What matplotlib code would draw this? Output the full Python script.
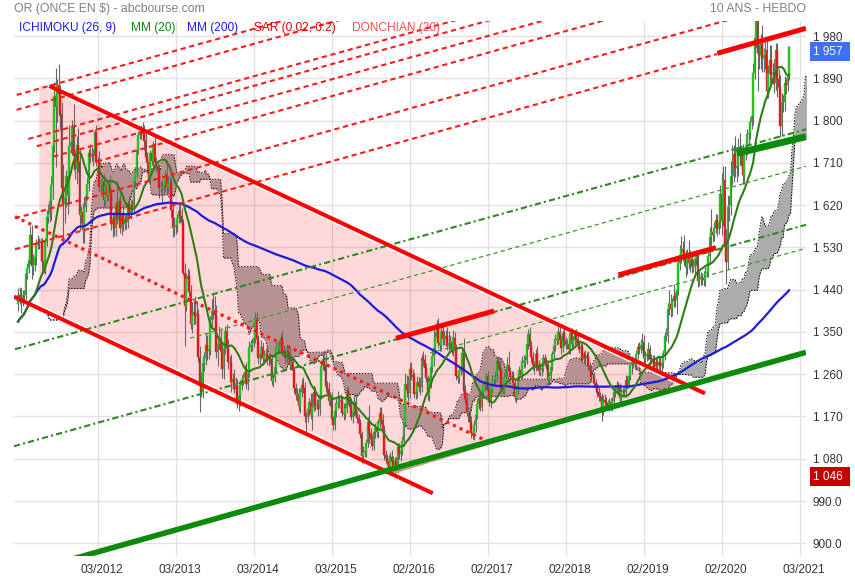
import numpy as np
import pandas as pd
import matplotlib
matplotlib.use("Agg")
import matplotlib.pyplot as plt
from matplotlib.transforms import blended_transform_factory, ScaledTranslation

plt.rcParams["font.family"] = ["Liberation Sans", "DejaVu Sans"]

# ---- weekly gold price, $ / oz (week index 0 = week of 2011-02-28) ----
# 8 weeks before the window, only used by the moving averages and ichimoku
open_first = 1421
close_hist = [1369, 1360, 1342, 1341, 1349, 1360, 1388, 1409]
up_hist = [22, 15, 12, 14, 16, 12, 10, 9]
dn_hist = [18, 20, 14, 33, 12, 14, 16, 10]

close_2011 = [1429, 1421, 1418, 1429, 1429, 1474, 1486, 1504, 1556, 1491, 1493, 1509, 1536, 1542, 1541,
              1539, 1500, 1486, 1542, 1594, 1601, 1628, 1663, 1745, 1852, 1828, 1876, 1856, 1814, 1657,
              1622, 1636, 1681, 1642, 1746, 1755, 1788, 1724, 1696, 1747, 1711, 1598, 1606, 1566]
up_2011 = [14, 16, 22, 10, 10, 8, 10, 12, 20, 21, 22, 12, 12, 14, 8, 10, 12, 20, 8, 16, 22, 10, 19, 70,
           30, 60, 12, 44, 20, 25, 50, 20, 14, 20, 45, 8, 14, 48, 12, 20, 37, 28, 12, 18]
dn_2011 = [14, 12, 28, 12, 10, 8, 12, 10, 10, 29, 20, 14, 16, 10, 14, 18, 22, 10, 12, 10, 12, 18, 40, 30,
           12, 126, 30, 46, 34, 30, 87, 40, 20, 40, 20, 14, 28, 30, 20, 30, 20, 30, 16, 26]

close_2012 = [1617, 1640, 1665, 1731, 1725, 1725, 1724, 1776, 1711, 1711, 1659, 1662, 1669, 1631, 1660,
              1642, 1664, 1645, 1580, 1592, 1572, 1622, 1590, 1628, 1572, 1598, 1579, 1590, 1585, 1622,
              1604, 1620, 1616, 1671, 1691, 1738, 1770, 1775, 1772, 1780, 1757, 1723, 1711, 1676, 1730,
              1714, 1751, 1712, 1704, 1696, 1657, 1657]
up_2012 = [20, 12, 14, 8, 20, 18, 14, 5, 14, 12, 24, 12, 10, 18, 8, 16, 10, 20, 12, 10, 14, 6, 50, 8, 16,
           6, 24, 10, 12, 6, 18, 10, 14, 4, 10, 4, 8, 12, 15, 18, 10, 16, 10, 20, 8, 14, 6, 14, 10, 10, 12, 14]
dn_2012 = [26, 12, 10, 16, 15, 12, 20, 12, 8, 14, 12, 20, 12, 14, 12, 14, 14, 12, 14, 28, 18, 18, 10, 14,
           12, 16, 14, 12, 16, 14, 14, 14, 10, 12, 12, 12, 10, 10, 12, 12, 20, 12, 14, 8, 14, 8, 12, 12, 14,
           12, 22, 10]

close_2013 = [1657, 1662, 1687, 1659, 1667, 1667, 1609, 1572, 1573, 1577, 1592, 1608, 1596, 1581, 1476,
              1405, 1462, 1469, 1436, 1366, 1387, 1392, 1383, 1388, 1296, 1234, 1223, 1283, 1295, 1322,
              1310, 1313, 1375, 1395, 1396, 1387, 1308, 1325, 1338, 1310, 1272, 1315, 1352, 1315, 1285,
              1287, 1243, 1250, 1229, 1234, 1197, 1213]
up_2013 = [16, 20, 8, 30, 15, 14, 10, 12, 22, 12, 10, 12, 14, 18, 10, 20, 14, 18, 12, 14, 26, 24, 34, 28,
           10, 25, 30, 16, 12, 26, 22, 10, 8, 25, 37, 30, 20, 12, 24, 18, 14, 10, 10, 14, 20, 12, 16, 12,
           22, 20, 16, 10]
dn_2013 = [32, 12, 12, 18, 14, 14, 14, 20, 18, 14, 14, 10, 12, 14, 5, 84, 10, 16, 10, 10, 18, 22, 16, 16,
           10, 54, 12, 14, 16, 16, 20, 18, 12, 16, 18, 30, 14, 30, 12, 20, 20, 22, 12, 10, 14, 10, 20, 14,
           10, 24, 10, 16]

close_2014 = [1237, 1248, 1254, 1264, 1240, 1262, 1318, 1323, 1326, 1338, 1380, 1334, 1294, 1303, 1318,
              1294, 1300, 1302, 1290, 1293, 1292, 1245, 1252, 1275, 1316, 1316, 1320, 1337, 1310, 1307,
              1294, 1310, 1305, 1280, 1287, 1268, 1231, 1216, 1218, 1192, 1222, 1238, 1231, 1171, 1169,
              1185, 1201, 1175, 1191, 1222, 1195, 1195]
up_2014 = [10, 10, 8, 16, 22, 8, 12, 10, 12, 14, 12, 12, 10, 10, 14, 10, 12, 14, 20, 12, 10, 8, 10, 8, 12,
           14, 12, 8, 14, 12, 8, 12, 10, 12, 8, 10, 8, 10, 12, 12, 8, 12, 16, 12, 8, 12, 8, 20, 30, 16, 10, 12]
dn_2014 = [20, 10, 12, 12, 12, 14, 8, 10, 14, 8, 12, 8, 12, 12, 10, 14, 12, 12, 10, 12, 10, 8, 12, 8, 10,
           10, 10, 14, 12, 8, 12, 10, 12, 8, 12, 12, 10, 10, 12, 10, 14, 10, 12, 12, 38, 10, 14, 10, 33, 10,
           12, 10]

close_2015 = [1186, 1216, 1277, 1293, 1279, 1234, 1228, 1204, 1213, 1164, 1152, 1182, 1199, 1201, 1205,
              1203, 1178, 1175, 1189, 1225, 1205, 1190, 1168, 1180, 1201, 1173, 1167, 1157, 1132, 1086,
              1095, 1094, 1113, 1159, 1134, 1121, 1108, 1137, 1146, 1137, 1156, 1177, 1163, 1142, 1088,
              1081, 1076, 1057, 1084, 1075, 1066, 1076]
up_2015 = [12, 10, 10, 14, 18, 26, 12, 16, 10, 10, 8, 14, 10, 24, 10, 12, 10, 20, 10, 8, 10, 10, 20, 12,
           14, 20, 10, 8, 8, 8, 12, 10, 8, 10, 36, 12, 12, 6, 10, 14, 8, 14, 14, 12, 10, 10, 10, 12, 10, 14,
           10, 8]
dn_2015 = [14, 12, 8, 8, 12, 12, 10, 10, 12, 8, 10, 10, 14, 12, 12, 12, 8, 12, 10, 12, 8, 10, 6, 12, 10,
           6, 10, 10, 8, 14, 14, 10, 10, 8, 20, 10, 10, 10, 12, 10, 12, 10, 10, 8, 10, 10, 10, 6, 8, 10, 20, 12]

close_2016 = [1061, 1104, 1090, 1097, 1117, 1157, 1239, 1227, 1221, 1271, 1259, 1255, 1217, 1222, 1243,
              1235, 1232, 1294, 1290, 1273, 1252, 1216, 1243, 1275, 1298, 1316, 1340, 1366, 1327, 1322,
              1351, 1336, 1336, 1341, 1321, 1327, 1328, 1310, 1338, 1316, 1257, 1251, 1267, 1276, 1305,
              1225, 1208, 1178, 1178, 1159, 1134, 1131, 1152]
up_2016 = [8, 10, 10, 14, 12, 10, 24, 20, 30, 12, 14, 12, 10, 8, 14, 12, 20, 8, 16, 14, 10, 6, 10, 10, 16,
           42, 10, 9, 14, 12, 16, 16, 16, 14, 20, 25, 16, 12, 16, 12, 8, 12, 8, 12, 8, 32, 12, 14, 12, 12,
           12, 10, 10]
dn_2016 = [12, 12, 10, 14, 8, 10, 10, 16, 18, 12, 12, 14, 8, 10, 12, 12, 16, 10, 12, 10, 8, 10, 12, 12,
           10, 20, 12, 12, 12, 12, 12, 14, 14, 10, 10, 12, 14, 8, 12, 12, 10, 10, 10, 8, 12, 10, 10, 8, 20,
           10, 10, 8, 12]

close_2017 = [1173, 1197, 1209, 1191, 1220, 1234, 1238, 1257, 1226, 1201, 1229, 1248, 1249, 1254, 1288,
              1284, 1268, 1228, 1227, 1254, 1267, 1280, 1266, 1254, 1256, 1242, 1212, 1228, 1254, 1269,
              1258, 1289, 1285, 1291, 1325, 1346, 1320, 1297, 1280, 1275, 1304, 1280, 1266, 1269, 1274,
              1294, 1288, 1281, 1248, 1257, 1275, 1303]
up_2017 = [10, 12, 10, 14, 8, 10, 8, 6, 10, 8, 12, 10, 10, 10, 8, 8, 10, 8, 8, 10, 10, 16, 30, 10, 10, 10,
           8, 10, 8, 8, 16, 10, 12, 10, 8, 11, 14, 10, 10, 8, 10, 16, 10, 14, 8, 10, 10, 8, 8, 8, 8, 6]
dn_2017 = [14, 8, 12, 10, 10, 8, 10, 12, 8, 8, 12, 10, 12, 12, 10, 12, 10, 8, 10, 10, 10, 10, 10, 8, 10,
           10, 8, 14, 10, 8, 10, 8, 12, 10, 10, 12, 8, 10, 10, 14, 8, 10, 8, 10, 12, 10, 10, 10, 12, 12, 8, 8]

close_2018 = [1320, 1335, 1332, 1350, 1333, 1316, 1347, 1330, 1323, 1324, 1313, 1347, 1325, 1332, 1345,
              1336, 1323, 1314, 1318, 1291, 1302, 1294, 1298, 1278, 1269, 1253, 1255, 1241, 1231, 1223,
              1214, 1212, 1184, 1205, 1201, 1198, 1193, 1200, 1192, 1203, 1222, 1227, 1234, 1232, 1209,
              1222, 1223, 1222, 1248, 1238, 1257, 1280]
up_2018 = [8, 10, 12, 16, 10, 10, 8, 12, 10, 10, 12, 8, 12, 10, 10, 12, 10, 10, 8, 8, 8, 10, 10, 12, 8, 8,
           8, 10, 8, 10, 10, 8, 8, 10, 12, 10, 8, 10, 10, 8, 8, 10, 12, 10, 10, 8, 8, 8, 10, 8, 8, 6]
dn_2018 = [8, 10, 10, 8, 10, 12, 8, 10, 10, 10, 10, 10, 8, 10, 10, 10, 10, 8, 10, 8, 10, 10, 10, 8, 10, 10,
           12, 8, 10, 12, 10, 10, 24, 10, 10, 8, 10, 12, 8, 10, 8, 10, 10, 10, 8, 10, 10, 8, 10, 10, 8, 10]

close_2019 = [1286, 1288, 1282, 1304, 1318, 1314, 1322, 1329, 1294, 1298, 1302, 1313, 1292, 1291, 1290,
              1276, 1286, 1280, 1286, 1277, 1284, 1305, 1341, 1341, 1399, 1409, 1399, 1415, 1426, 1419,
              1440, 1497, 1513, 1527, 1520, 1507, 1488, 1517, 1497, 1505, 1489, 1490, 1505, 1514, 1459,
              1468, 1462, 1464, 1460, 1476, 1478, 1511]
up_2019 = [12, 8, 10, 8, 8, 10, 12, 18, 14, 12, 10, 16, 10, 10, 10, 10, 8, 10, 14, 10, 8, 6, 8, 18, 12, 30,
           22, 8, 26, 10, 14, 12, 22, 28, 16, 37, 18, 10, 28, 20, 14, 16, 10, 10, 10, 14, 10, 12, 16, 12, 12, 8]
dn_2019 = [20, 12, 10, 12, 12, 10, 8, 10, 10, 12, 10, 12, 12, 10, 10, 8, 10, 12, 10, 10, 10, 10, 14, 10,
           14, 14, 18, 16, 12, 16, 30, 12, 16, 16, 18, 14, 22, 14, 12, 20, 14, 12, 14, 12, 14, 12, 12, 12,
           12, 12, 10, 12]

close_2020 = [1552, 1562, 1557, 1571, 1589, 1570, 1584, 1644, 1586, 1673, 1530, 1499, 1617, 1620, 1683,
              1683, 1729, 1700, 1703, 1743, 1735, 1730, 1685, 1730, 1743, 1771, 1774, 1798, 1810, 1902,
              1975, 2035, 1944, 1940, 1964, 1933, 1940, 1950, 1862, 1900, 1930, 1900, 1902, 1879, 1951,
              1889, 1872, 1788, 1839, 1840, 1881, 1876]
up_2020 = [22, 49, 12, 12, 12, 12, 10, 18, 45, 30, 30, 40, 25, 20, 30, 64, 18, 38, 12, 20, 30, 14, 20, 14,
           10, 10, 14, 10, 8, 20, 9, 40, 26, 20, 20, 40, 14, 20, 20, 18, 30, 30, 20, 30, 14, 14, 20, 26, 20,
           14, 14, 10]
dn_2020 = [16, 20, 16, 14, 10, 16, 12, 12, 30, 10, 26, 48, 16, 30, 20, 20, 14, 20, 30, 22, 30, 26, 20, 20,
           14, 16, 20, 14, 16, 20, 14, 20, 81, 30, 30, 30, 30, 30, 14, 14, 22, 16, 22, 20, 14, 39, 20, 24,
           20, 20, 20, 20]

close_2021 = [1895, 1957]
up_2021 = [12, 2]
dn_2021 = [14, 8]

# ---- axis labels ----
y_ticks = [900, 990, 1080, 1170, 1260, 1350, 1440, 1530, 1620, 1710, 1800, 1890, 1980]
x_tick_weeks = [53, 105, 157, 209, 261, 313, 365, 417, 469, 521]
x_tick_labels = ["03/2012", "03/2013", "03/2014", "03/2015", "02/2016",
                 "02/2017", "02/2018", "02/2019", "02/2020", "03/2021"]

# ---- drawn lines (week0, price0, week1, price1) ----
red_dashed = [(-0.9, 1854.6, 188.0, 2022.6), (-0.9, 1822.9, 228.0, 2026.3),
              (6.9, 1760.8, 321.3, 2039.9), (12.5, 1745.4, 334.7, 2031.6),
              (23.5, 1723.3, 361.3, 2022.6), (52.7, 1713.0, 401.3, 2022.6),
              (-2.0, 1591.9, 481.3, 2021.2), (-2.0, 1525.9, 466.0, 1941.5)]
red_dotted = (-2.0, 1595.3, 313.5, 1116.3)
red_channel = [(20.9, 1873.6, 458.0, 1219.0), (-2.7, 1425.0, 276.5, 1006.5)]
red_thick = [(252.0, 1336.5, 317.3, 1394.6), (400.2, 1471.2, 465.3, 1529.4),
             (466.2, 1943.2, 525.3, 1996.4)]
green_dashdot = [(-2.0, 1313.2, 525.3, 1781.4), (-2.7, 1106.7, 525.3, 1578.1)]
green_dashed = [(114.7, 1336.7, 525.3, 1702.6), (274.7, 1305.4, 525.3, 1528.1)]
green_thick = [(30.0, 860.8, 525.3, 1306.6)]
green_thick_top = [(479.1, 1730.3, 525.3, 1765.7)]
# pink zone: upper-left, apex, bottom, lower-left
zone_week = [14.2, 442.0, 250.0, 14.2]
zone_price = [1877.0, 1236.0, 1053.0, 1406.0]
base_line = (248.7, 1048.6, 444.7, 1238.0)

# ---- build OHLC ----
closes = (close_hist + close_2011 + close_2012 + close_2013 + close_2014 + close_2015 +
          close_2016 + close_2017 + close_2018 + close_2019 + close_2020 + close_2021)
ups = (up_hist + up_2011 + up_2012 + up_2013 + up_2014 + up_2015 +
       up_2016 + up_2017 + up_2018 + up_2019 + up_2020 + up_2021)
dns = (dn_hist + dn_2011 + dn_2012 + dn_2013 + dn_2014 + dn_2015 +
       dn_2016 + dn_2017 + dn_2018 + dn_2019 + dn_2020 + dn_2021)
n = min(len(closes), len(ups), len(dns))

close = np.array(closes[:n], dtype=float)
opn = np.concatenate([[open_first], close[:-1]])
high = np.maximum(opn, close) + np.array(ups[:n])
low = np.minimum(opn, close) - np.array(dns[:n])
week = np.arange(n) - len(close_hist)

s_close = pd.Series(close)
s_high = pd.Series(high)
s_low = pd.Series(low)
mm20 = s_close.rolling(20, min_periods=1).mean().values
mm200 = s_close.rolling(200, min_periods=1).mean().values


def midpoint(k):
    return ((s_high.rolling(k, min_periods=1).max() + s_low.rolling(k, min_periods=1).min()) / 2).values


tenkan = midpoint(9)
kijun = midpoint(26)
span_a = (tenkan + kijun) / 2
span_b = midpoint(52)
cloud_x = week + 26

vis = week >= 0

# ---- figure ----
fig = plt.figure(figsize=(8.55, 5.8), dpi=100)
fig.patch.set_facecolor("white")
ax = fig.add_axes([14 / 855, 24 / 580, 792 / 855, 535 / 580])
ax.set_xlim(-2.67, 525.33)
ax.set_ylim(872.96, 2011.97)
for s in ax.spines.values():
    s.set_visible(False)

ax.set_yticks(y_ticks)
ax.set_yticklabels([f"{v // 1000} {v % 1000:03d}" if v >= 1000 else f"{v:.1f}" for v in y_ticks])
ax.yaxis.tick_right()
ax.set_xticks(x_tick_weeks)
ax.set_xticklabels(x_tick_labels)
ax.tick_params(axis="y", length=0, pad=5, labelsize=8.5, labelcolor="#333333")
ax.tick_params(axis="x", length=0, pad=6, labelsize=8.5, labelcolor="#333333")
shift = ScaledTranslation(4 / 100, 0, fig.dpi_scale_trans)
for lbl in ax.get_xticklabels():
    lbl.set_transform(lbl.get_transform() + shift)
ax.grid(True, color="#e2e2e2", lw=1)
ax.set_axisbelow(True)

# ichimoku cloud
ax.fill_between(cloud_x, span_a, span_b, color="#acacac", lw=0, zorder=2)
ax.plot(cloud_x, span_a, color="black", lw=0.7, ls=(0, (1.5, 1.5)), zorder=2.5)
ax.plot(cloud_x, span_b, color="black", lw=0.7, ls=(0, (1.5, 1.5)), zorder=2.5)

# pink zone
ax.fill(zone_week, zone_price, facecolor="#ff0000", alpha=0.15, edgecolor="none", zorder=3)
ax.plot(zone_week[:2], zone_price[:2], color="white", lw=0.9, zorder=3.2)
ax.plot(zone_week[2:], zone_price[2:], color="white", lw=0.9, zorder=3.2)

# candles
ax.vlines(week[vis], low[vis], high[vis], color="#666666", lw=0.8, zorder=4)
body = close - opn
body = np.where(np.abs(body) < 1.5, 1.5, body)
colors = np.where(close >= opn, "#22c422", "#e3161a")
ax.bar(week[vis], body[vis], bottom=opn[vis], width=1.2, color=colors[vis],
       edgecolor=colors[vis], lw=0.3, zorder=5)

# moving averages
ax.plot(week[vis], mm200[vis], color="#1c1cdc", lw=1.6, zorder=6)
ax.plot(week[vis], mm20[vis], color="#2f7d16", lw=1.5, zorder=6)


def seg(line, **kw):
    ax.plot([line[0], line[2]], [line[1], line[3]], **kw)


# drawn lines
for ln in green_dashed:
    seg(ln, color="#3a9a2a", lw=0.9, ls=(0, (3.5, 2.5)), zorder=7)
for ln in green_dashdot:
    seg(ln, color="#2a8a1c", lw=1.5, ls=(0, (3, 1.5, 1, 1.5)), zorder=7)
for ln in red_dashed:
    seg(ln, color="#ff1a1a", lw=1.5, ls=(0, (2.5, 1.8)), zorder=7)
seg(red_dotted, color="#ff1a1a", lw=2.3, ls=(0, (1, 1.3)), zorder=7)
seg(base_line, color="#c8968a", lw=1.3, zorder=7)
for ln in red_channel:
    seg(ln, color="#ff0000", lw=2.9, solid_capstyle="butt", zorder=8)
for ln in green_thick:
    seg(ln, color="#0c8a0c", lw=4.0, solid_capstyle="butt", zorder=8)
for ln in green_thick_top:
    seg(ln, color="#0c8a0c", lw=5.0, solid_capstyle="butt", zorder=8)
for ln in red_thick:
    seg(ln, color="#ff0000", lw=3.6, solid_capstyle="butt", zorder=8)

# price boxes
tr = blended_transform_factory(ax.transAxes, ax.transData)
last_close = close[-1]
lowest = low[vis].min()
for val, fc, dy in [(last_close, "#3f6ff5", -3.6), (lowest, "#c40000", -1.5)]:
    v = int(round(val))
    ax.annotate(f"{v // 1000} {v % 1000:03d} ", xy=(1.0, val), xycoords=tr,
                xytext=(5.2, dy), textcoords="offset points", color="white", fontsize=8.5,
                va="center", ha="left", annotation_clip=False, zorder=10,
                bbox=dict(boxstyle="square,pad=0.3", fc=fc, ec="none"))

# header and legend
fig.text(14 / 855, 1 - 9 / 580, "OR (ONCE EN $) - abcbourse.com", color="#808080", fontsize=8.8,
         ha="left", va="center")
fig.text(806 / 855, 1 - 9 / 580, "10 ANS - HEBDO", color="#808080", fontsize=8.8,
         ha="right", va="center")
legend = [("ICHIMOKU (26, 9)", 19, "#1a1aff"), ("MM (20)", 131, "#0a8a0a"),
          ("MM (200)", 187, "#1a1aff"), ("SAR (0.02, 0.2)", 254, "#e00000"),
          ("DONCHIAN (20)", 352, "#ff4d4d")]
for txt, xp, col in legend:
    fig.text(xp / 855, 1 - 28 / 580, txt, color=col, fontsize=8.6, ha="left", va="center")

fig.savefig("out.png", dpi=100, facecolor="white")
